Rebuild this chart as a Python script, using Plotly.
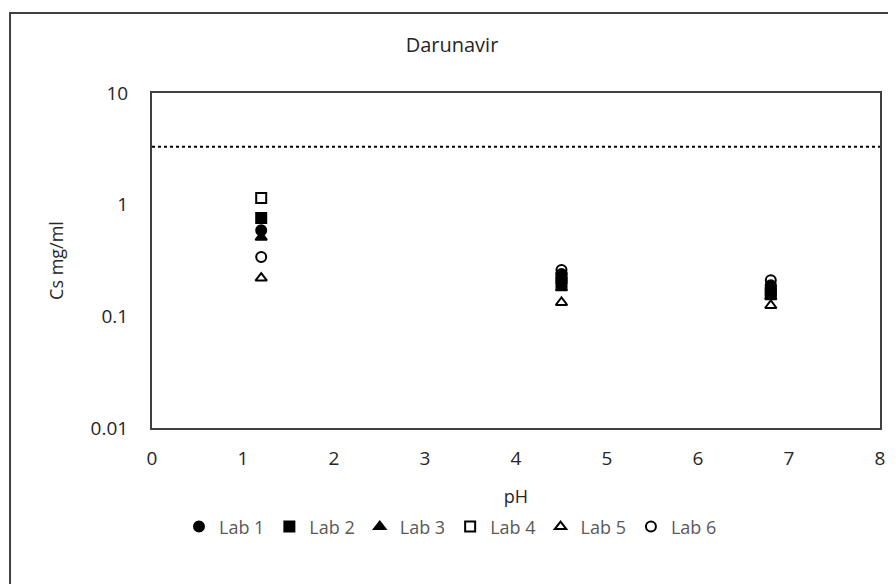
import plotly.graph_objects as go

ph = [1.2, 4.5, 6.8]
lab1 = [0.59, 0.24, 0.19]
lab2 = [0.76, 0.20, 0.16]
lab3 = [0.51, 0.18, 0.15]
lab4 = [1.15, 0.22, 0.17]
lab5 = [0.22, 0.133, 0.125]
lab6 = [0.34, 0.26, 0.21]
limit_x = [0, 8]
limit_y = [3.3, 3.3]

series = [
    ("Lab 1", lab1, "circle"),
    ("Lab 2", lab2, "square"),
    ("Lab 3", lab3, "triangle-up"),
    ("Lab 4", lab4, "square-open"),
    ("Lab 5", lab5, "triangle-up-open"),
    ("Lab 6", lab6, "circle-open"),
]

fig = go.Figure()
fig.add_trace(go.Scatter(x=limit_x, y=limit_y, mode="lines",
                         line=dict(color="black", width=2, dash="dot"),
                         showlegend=False, hoverinfo="skip"))
for name, vals, sym in series:
    fig.add_trace(go.Scatter(x=ph, y=vals, mode="markers", name=name,
                             marker=dict(symbol=sym, size=10, color="black",
                                         line=dict(color="black", width=2))))

font_family = "Open Sans, Liberation Sans, sans-serif"
fig.update_layout(
    width=888, height=576,
    margin=dict(l=144, r=16, t=85, b=156),
    paper_bgcolor="white", plot_bgcolor="white",
    font=dict(family=font_family, color="#262626", size=18),
    title=dict(text="Darunavir", x=0.5, xanchor="center", y=0.935, yanchor="middle",
               font=dict(size=20, color="#262626")),
    xaxis=dict(range=[0, 8], dtick=1, showgrid=False, zeroline=False,
               showline=True, linecolor="#404040", linewidth=2, mirror=True,
               ticks="", tickfont=dict(size=19, color="#262626"), ticklabelstandoff=12,
               title=dict(text="pH", font=dict(size=18, color="#262626"), standoff=21)),
    yaxis=dict(type="log", range=[-2, 1], tickvals=[0.01, 0.1, 1, 10],
               ticktext=["0.01", "0.1", "1", "10"], showgrid=False, zeroline=False,
               showline=True, linecolor="#404040", linewidth=2, mirror=True,
               ticks="", tickfont=dict(size=19, color="#262626"), ticklabelstandoff=18,
               title=dict(text="Cs mg/ml", font=dict(size=18, color="#262626"), standoff=22)),
    legend=dict(orientation="h", x=0.41, xanchor="center", y=-0.295, yanchor="middle",
                font=dict(size=18, color="#595959"), itemwidth=30,
                tracegroupgap=0),
    shapes=[dict(type="rect", xref="paper", yref="paper",
                 x0=-0.195, x1=1.03, y0=-0.48, y1=1.239,
                 line=dict(color="#404040", width=2), fillcolor="rgba(0,0,0,0)",
                 layer="below")],
)

fig.write_html("out.html")
